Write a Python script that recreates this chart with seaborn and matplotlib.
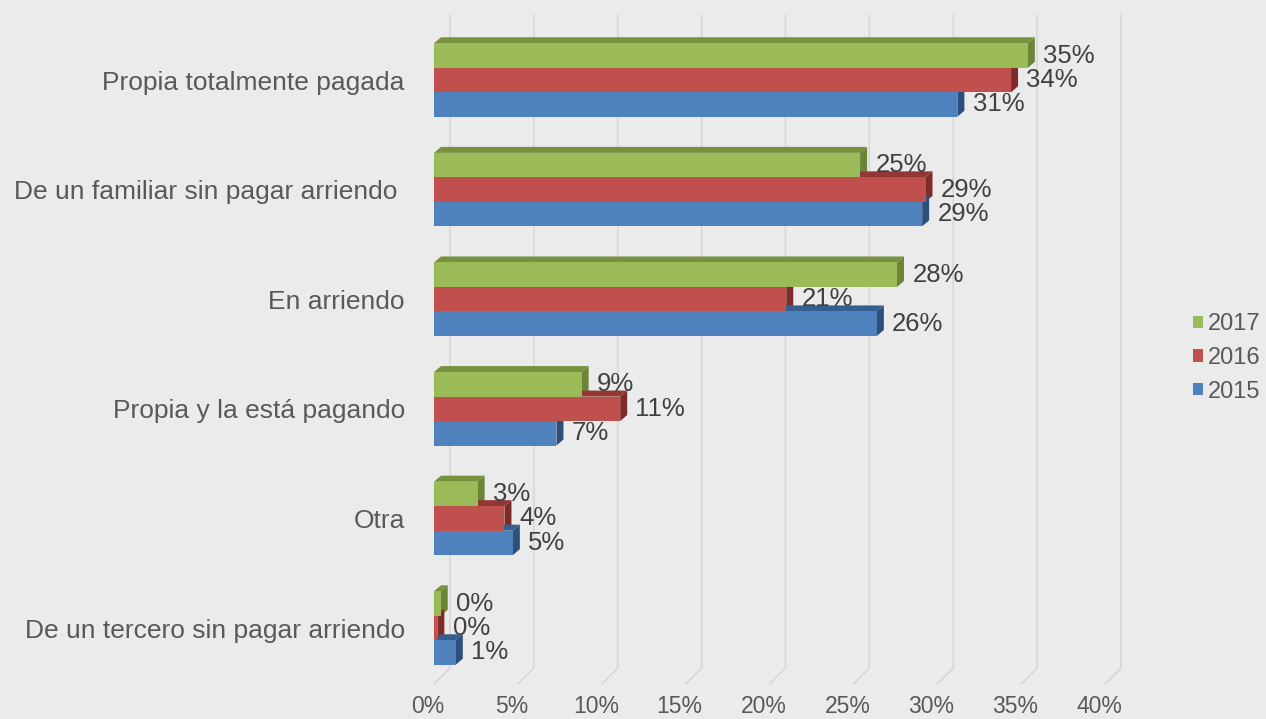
import pandas as pd
import matplotlib.pyplot as plt
import seaborn as sns
from matplotlib.patches import Polygon, Patch
from matplotlib.transforms import ScaledTranslation

# Data (share of households, %)
categories = ['Propia totalmente pagada',
              'De un familiar sin pagar arriendo ',
              'En arriendo',
              'Propia y la está pagando',
              'Otra',
              'De un tercero sin pagar arriendo']
years = ['2017', '2016', '2015']
vals_2017 = [35.4, 25.4, 27.6, 8.8, 2.6, 0.4]
vals_2016 = [34.4, 29.3, 21.0, 11.1, 4.2, 0.2]
vals_2015 = [31.2, 29.1, 26.4, 7.3, 4.7, 1.3]
x_ticks = [0, 5, 10, 15, 20, 25, 30, 35, 40]

colors = {'2017': '#9BBB59', '2016': '#C0504D', '2015': '#4F81BD'}
top_colors = {'2017': '#76923C', '2016': '#943634', '2015': '#365F91'}
side_colors = {'2017': '#6A8535', '2016': '#7F2B29', '2015': '#2C4F7C'}
bg = '#EBEBEB'
label_col = '#595959'
value_col = '#404040'

df = pd.DataFrame({
    'Categoria': categories * 3,
    'Año': ['2017'] * 6 + ['2016'] * 6 + ['2015'] * 6,
    'Valor': vals_2017 + vals_2016 + vals_2015,
})

sns.set_style('white')
plt.rcParams['font.family'] = ['Liberation Sans', 'DejaVu Sans']

fig = plt.figure(figsize=(12.66, 7.19), dpi=100)
fig.patch.set_facecolor(bg)
W, H = 1266, 719
top_px, bot_px, left_px, right_px = 15, 684, 434, 1105
ax = fig.add_axes([left_px / W, 1 - bot_px / H, (right_px - left_px) / W, (bot_px - top_px) / H])
ax.set_facecolor(bg)

sns.barplot(data=df, y='Categoria', x='Valor', hue='Año', hue_order=years,
            order=categories, palette=colors, width=0.67, saturation=1,
            orient='h', ax=ax, legend=False)

ax.set_xlim(0, 40)
ax.set_ylim(5 + (bot_px - 628) / 109.6, -(80 - top_px) / 109.6)
ax.set_xticks(x_ticks)
ax.set_xticklabels([f'{t}%' for t in x_ticks])
ax.set_xlabel('')
ax.set_ylabel('')
for s in ax.spines.values():
    s.set_visible(False)
ax.tick_params(axis='y', length=0, pad=21, labelsize=19, labelcolor=label_col)
ax.tick_params(axis='x', length=0, pad=8, labelsize=16.5, labelcolor=label_col)
for lab in ax.get_xticklabels():
    lab.set_transform(lab.get_transform() + ScaledTranslation(-0.06, 0, fig.dpi_scale_trans))

# pixel -> data conversions for the fake 3D depth
px_x = 40 / (right_px - left_px)
px_y = (ax.get_ylim()[0] - ax.get_ylim()[1]) / (bot_px - top_px)

# gridlines drawn on the "back wall" with a slanted foot
y_top, y_bot = ax.get_ylim()[1], ax.get_ylim()[0]
for t in x_ticks:
    ax.plot([t + 16 * px_x, t + 16 * px_x, t], [y_top, y_bot - 16 * px_y, y_bot],
            color='#D6D6D6', lw=1.1, zorder=0, clip_on=False)

# 3D faces for each bar
ddx, ddy = 7 * px_x, 6 * px_y
for year, cont in zip(years, ax.containers):
    for p in cont.patches:
        p.set_zorder(3)
        p.set_edgecolor('none')
        x0, y0, w, h = p.get_x(), p.get_y(), p.get_width(), p.get_height()
        top = Polygon([(x0, y0), (x0 + w, y0), (x0 + w + ddx, y0 - ddy), (x0 + ddx, y0 - ddy)],
                      closed=True, facecolor=top_colors[year], edgecolor='none', zorder=2)
        side = Polygon([(x0 + w, y0), (x0 + w, y0 + h), (x0 + w + ddx, y0 + h - ddy), (x0 + w + ddx, y0 - ddy)],
                       closed=True, facecolor=side_colors[year], edgecolor='none', zorder=2)
        ax.add_patch(top)
        ax.add_patch(side)
    ax.bar_label(cont, labels=[f'{v:.0f}%' for v in cont.datavalues], padding=11,
                 fontsize=18.5, color=value_col, zorder=4)

handles = [Patch(facecolor=colors[y], edgecolor='none') for y in years]
fig.legend(handles, years, loc='center left', bbox_to_anchor=(1184 / W, 1 - 358 / H),
           frameon=False, fontsize=17, labelcolor=label_col, handlelength=0.42,
           handleheight=0.42, handletextpad=0.2, labelspacing=0.5, borderaxespad=0)

plt.savefig('out.png', dpi=100, facecolor=bg)
